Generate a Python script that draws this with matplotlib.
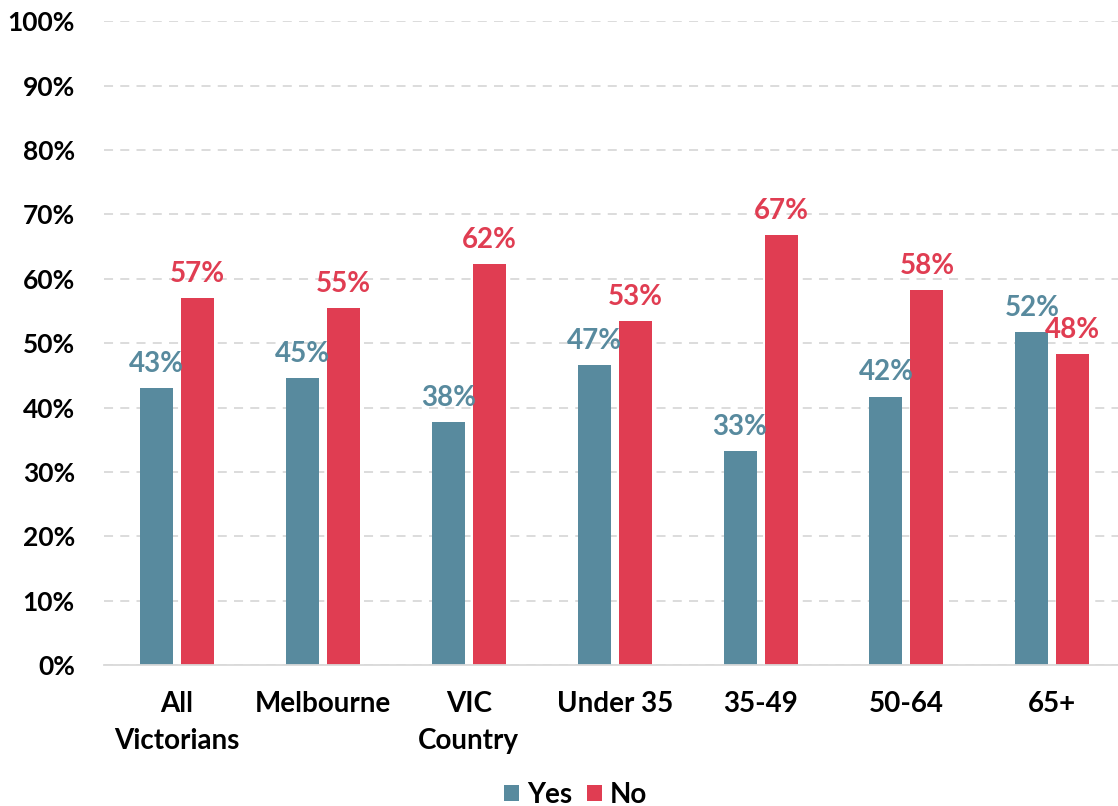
import matplotlib
matplotlib.use("Agg")
import matplotlib.pyplot as plt
import numpy as np
from matplotlib.ticker import FuncFormatter

categories = ["All\nVictorians", "Melbourne", "VIC\nCountry", "Under 35", "35-49", "50-64", "65+"]
yes_vals = [43.0, 44.6, 37.7, 46.6, 33.2, 41.7, 51.7]
no_vals = [57.0, 55.4, 62.3, 53.4, 66.8, 58.3, 48.3]
series_names = ["Yes", "No"]
yticks = [0, 10, 20, 30, 40, 50, 60, 70, 80, 90, 100]

YES_C = "#588A9E"
NO_C = "#E03D52"

plt.rcParams['font.family'] = ['Lato', 'DejaVu Sans']
plt.rcParams['font.weight'] = 'bold'

fig = plt.figure(figsize=(11.18, 8.06), dpi=100)
ax = fig.add_axes([104/1118, 0.175, 1 - 104/1118, 0.7984])

x = np.arange(len(categories))
off = 0.1405
w = 0.226
b1 = ax.bar(x - off, yes_vals, w, color=YES_C, label=series_names[0], zorder=3)
b2 = ax.bar(x + off, no_vals, w, color=NO_C, label=series_names[1], zorder=3)

for xi, v in zip(x, yes_vals):
    ax.annotate(f"{round(v):.0f}%", (xi - off, v), xytext=(0, 8), textcoords="offset points",
                ha="center", va="bottom", color=YES_C, fontsize=20, fontweight="bold")
for xi, v in zip(x, no_vals):
    ax.annotate(f"{round(v):.0f}%", (xi + off, v), xytext=(0, 8), textcoords="offset points",
                ha="center", va="bottom", color=NO_C, fontsize=20, fontweight="bold")

ax.set_ylim(0, 100)
ax.set_xlim(-0.5, 6.45)
ax.set_yticks(yticks)
ax.yaxis.set_major_formatter(FuncFormatter(lambda v, p: f"{v:.0f}%"))
ax.set_xticks(x)
ax.set_xticklabels(categories, linespacing=1.5)
ax.tick_params(axis="y", length=0, pad=21, labelsize=19)
ax.tick_params(axis="x", length=0, pad=19, labelsize=20)
for lab in ax.get_xticklabels() + ax.get_yticklabels():
    lab.set_fontweight("bold")

ax.yaxis.grid(True, color="#D9D9D9", linestyle=(0, (5, 4)), linewidth=1.3, zorder=0)
ax.set_axisbelow(True)
for s in ["top", "right", "left"]:
    ax.spines[s].set_visible(False)
ax.spines["bottom"].set_color("#D9D9D9")
ax.spines["bottom"].set_linewidth(1.3)
ax.spines["bottom"].set_zorder(4)

leg = fig.legend(handles=[b1, b2], loc="lower center", bbox_to_anchor=(0.515, -0.033), ncol=2,
                 frameon=False, handlelength=0.52, handleheight=0.52,
                 handletextpad=0.3, columnspacing=0.55, prop={"weight": "bold", "size": 20})

fig.savefig("out.png", dpi=100)
